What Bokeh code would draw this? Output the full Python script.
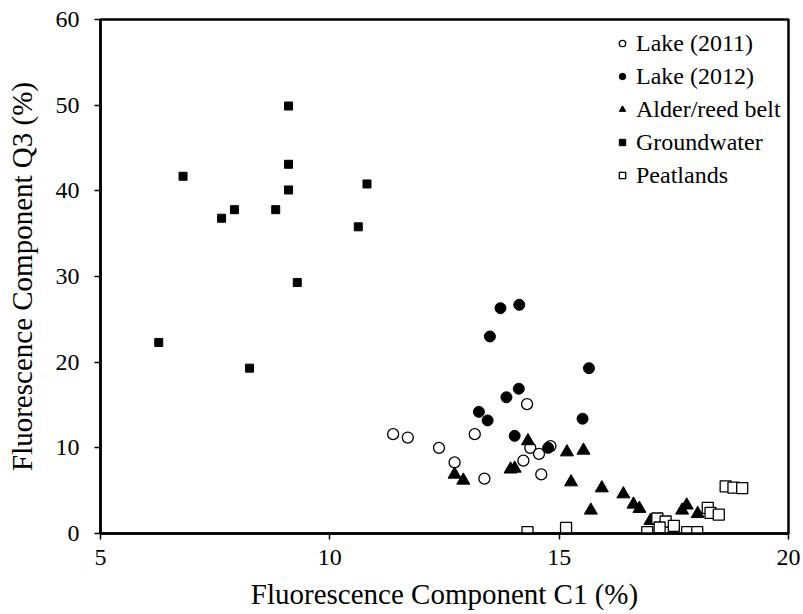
from bokeh.plotting import figure
from bokeh.models import Range1d, Legend, LegendItem, FixedTicker
from bokeh.embed import file_html
from bokeh.resources import INLINE

# Data (C1 %, Q3 %)
lake2011_x = [11.38, 11.70, 12.38, 12.72, 13.16, 13.37, 14.30, 14.37, 14.81, 14.56, 14.22, 14.61]
lake2011_y = [11.6, 11.2, 10.0, 8.3, 11.6, 6.4, 15.1, 10.0, 10.2, 9.3, 8.5, 6.9]

lake2012_x = [13.72, 14.13, 13.49, 15.65, 14.12, 13.85, 13.25, 13.44, 15.51, 14.03, 14.76]
lake2012_y = [26.3, 26.7, 23.0, 19.3, 16.9, 15.9, 14.2, 13.2, 13.4, 11.4, 10.0]

alder_x = [12.72, 12.91, 13.94, 14.03, 14.32, 15.17, 15.53, 15.26, 15.69, 15.93, 16.40,
           16.62, 16.75, 16.99, 17.68, 17.78, 18.02]
alder_y = [6.9, 6.2, 7.5, 7.6, 10.8, 9.5, 9.7, 6.0, 2.7, 5.3, 4.6,
           3.4, 2.9, 1.5, 2.7, 3.3, 2.3]

ground_x = [9.10, 9.10, 6.80, 9.10, 7.92, 8.82, 7.64, 9.29, 6.27, 8.25, 10.81, 10.62]
ground_y = [49.9, 43.1, 41.7, 40.1, 37.8, 37.8, 36.8, 29.3, 22.3, 19.3, 40.8, 35.8]

peat_x = [14.31, 15.15, 16.92, 17.14, 17.32, 17.50, 17.19, 17.79, 18.01, 18.24, 18.30,
          18.48, 18.63, 18.80, 18.99]
peat_y = [0.15, 0.65, 0.15, 1.75, 1.4, 0.9, 0.7, 0.15, 0.15, 3.0, 2.4,
          2.2, 5.5, 5.35, 5.3]

x_ticks = [5, 10, 15, 20]
y_ticks = [0, 10, 20, 30, 40, 50, 60]

FONT = "Liberation Serif"

p = figure(width=803, height=614, output_backend="svg", toolbar_location=None,
           x_range=Range1d(5, 20), y_range=Range1d(0, 60),
           min_border_left=100, min_border_right=15, min_border_top=19, min_border_bottom=81)
p.grid.visible = False
p.background_fill_color = "white"
p.border_fill_color = "white"
p.outline_line_color = "black"
p.outline_line_width = 2.5

r1 = p.scatter(lake2011_x, lake2011_y, marker="circle", size=11, fill_color="white",
               line_color="black", line_width=1.3)
r2 = p.scatter(lake2012_x, lake2012_y, marker="circle", size=11, fill_color="black",
               line_color="black")
r3 = p.scatter(alder_x, alder_y, marker="triangle", size=13, fill_color="black",
               line_color="black")
r4 = p.scatter(ground_x, ground_y, marker="square", size=8, fill_color="black",
               line_color="black")
r5 = p.scatter(peat_x, peat_y, marker="square", size=11, fill_color="white",
               line_color="black", line_width=1.3)

for ax in (p.xaxis[0], p.yaxis[0]):
    ax.axis_line_width = 2.5
    ax.axis_line_color = "black"
    ax.major_tick_line_width = 1.5
    ax.major_tick_line_color = "black"
    ax.major_tick_out = 6
    ax.major_tick_in = 0
    ax.minor_tick_line_color = None
    ax.major_label_text_font = FONT
    ax.major_label_text_font_size = "24px"
    ax.major_label_text_color = "black"
    ax.axis_label_text_font = FONT
    ax.axis_label_text_font_size = "29px"
    ax.axis_label_text_font_style = "normal"
    ax.axis_label_text_color = "black"

p.xaxis[0].ticker = FixedTicker(ticks=x_ticks)
p.yaxis[0].ticker = FixedTicker(ticks=y_ticks)
p.xaxis[0].axis_label = "Fluorescence Component C1 (%)"
p.yaxis[0].axis_label = "Fluorescence Component Q3 (%)"
p.xaxis[0].major_label_standoff = 10
p.xaxis[0].axis_label_standoff = 10
p.yaxis[0].major_label_standoff = 15
p.yaxis[0].axis_label_standoff = 15

legend = Legend(items=[
    LegendItem(label="Lake (2011)", renderers=[r1]),
    LegendItem(label="Lake (2012)", renderers=[r2]),
    LegendItem(label="Alder/reed belt", renderers=[r3]),
    LegendItem(label="Groundwater", renderers=[r4]),
    LegendItem(label="Peatlands", renderers=[r5]),
], location=(514, 344))
legend.label_text_font = FONT
legend.label_text_font_size = "24px"
legend.label_text_color = "black"
legend.border_line_color = None
legend.background_fill_alpha = 0
legend.glyph_width = 16
legend.glyph_height = 28
legend.label_height = 28
legend.spacing = 5
legend.padding = 3
legend.margin = 0
legend.label_standoff = 6
p.add_layout(legend)

open("out.html", "w").write(file_html(p, INLINE))
